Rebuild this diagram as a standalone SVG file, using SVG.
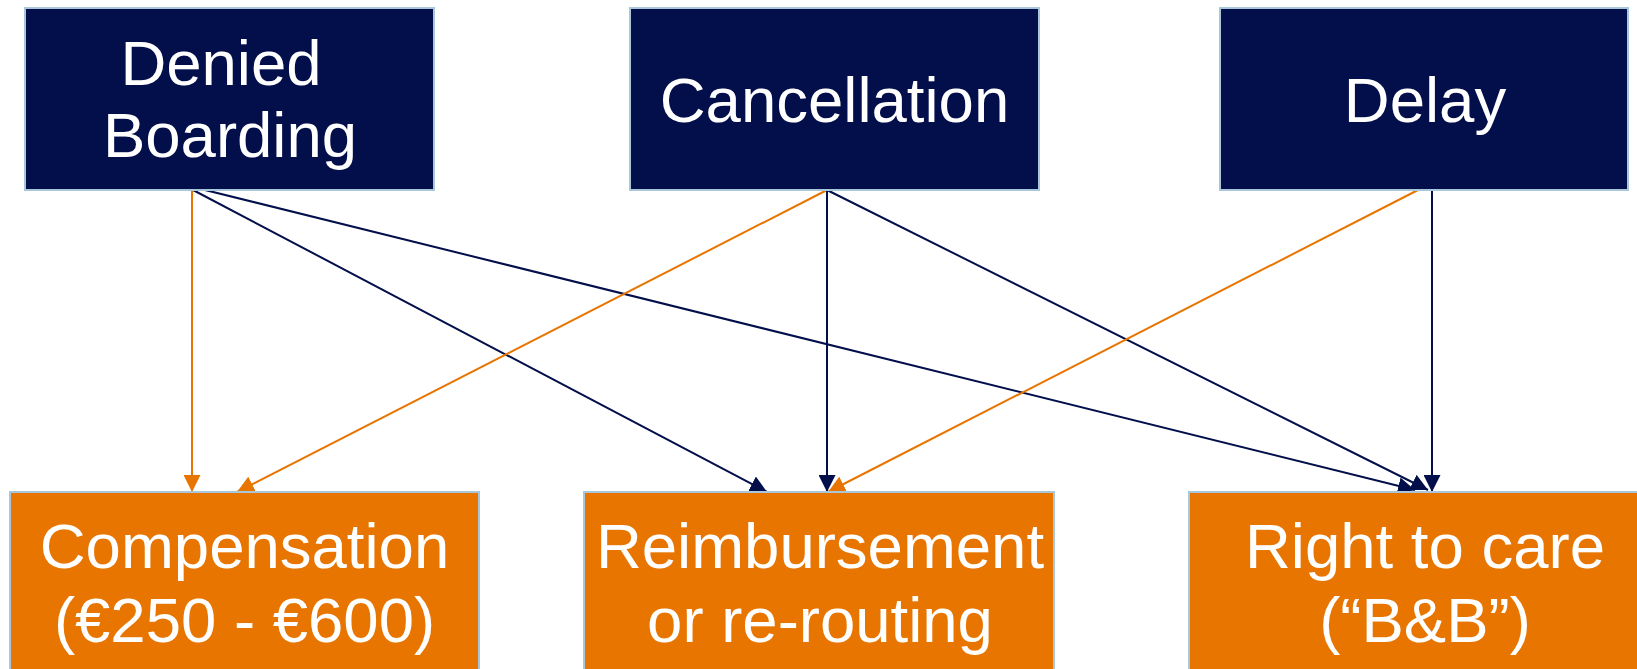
<svg xmlns="http://www.w3.org/2000/svg" width="1637" height="669" viewBox="0 0 1637 669">
<style>
.top{fill:#020F4A;stroke:#A9C7DA;stroke-width:2}
.bot{fill:#E87500;stroke:#A9C7DA;stroke-width:2}
.t{font-family:"Liberation Sans",Arial,sans-serif;font-size:63.5px;fill:#ffffff;text-anchor:middle}
.cn{stroke:#020F4A;stroke-width:2;fill:none;marker-end:url(#an)}
.co{stroke:#E87500;stroke-width:2;fill:none;marker-end:url(#ao)}
</style>
<defs>
<marker id="an" markerUnits="userSpaceOnUse" markerWidth="17" markerHeight="17" refX="16" refY="8" orient="auto" viewBox="0 0 16 16"><path d="M0,0 L16,8 L0,16 z" fill="#020F4A"/></marker>
<marker id="ao" markerUnits="userSpaceOnUse" markerWidth="17" markerHeight="17" refX="16" refY="8" orient="auto" viewBox="0 0 16 16"><path d="M0,0 L16,8 L0,16 z" fill="#E87500"/></marker>
</defs>
<rect width="1637" height="669" fill="#ffffff"/>
<g id="connectors">
<line class="co" x1="192" y1="190" x2="192" y2="492"/>
<line class="cn" x1="193" y1="190" x2="767" y2="492"/>
<line class="cn" x1="205" y1="190" x2="1415" y2="490"/>
<line class="co" x1="827" y1="190" x2="237" y2="492"/>
<line class="cn" x1="827" y1="190" x2="827" y2="492"/>
<line class="cn" x1="827" y1="190" x2="1428" y2="490"/>
<line class="co" x1="1418" y1="190" x2="828" y2="492"/>
<line class="cn" x1="1432" y1="190" x2="1432" y2="492"/>
</g>
<g id="denied-boarding">
<rect class="top" x="25" y="8" width="409" height="182"/>
<text class="t" x="221" y="85">Denied</text>
<text class="t" x="230" y="157">Boarding</text>
</g>
<g id="cancellation">
<rect class="top" x="630" y="8" width="409" height="182"/>
<text class="t" x="834.5" y="122">Cancellation</text>
</g>
<g id="delay">
<rect class="top" x="1220" y="8" width="408" height="182"/>
<text class="t" x="1425" y="122">Delay</text>
</g>
<g id="compensation">
<rect class="bot" x="10" y="492" width="469" height="200"/>
<text class="t" x="244.5" y="568">Compensation</text>
<text class="t" x="244.5" y="642">(€250 - €600)</text>
</g>
<g id="reimbursement">
<rect class="bot" x="584" y="492" width="470" height="200"/>
<text class="t" x="820" y="568">Reimbursement</text>
<text class="t" x="820" y="642">or re-routing</text>
</g>
<g id="right-to-care">
<rect class="bot" x="1189" y="492" width="470" height="200"/>
<text class="t" x="1425" y="568">Right to care</text>
<text class="t" x="1425" y="642">(“B&amp;B”)</text>
</g>
</svg>
